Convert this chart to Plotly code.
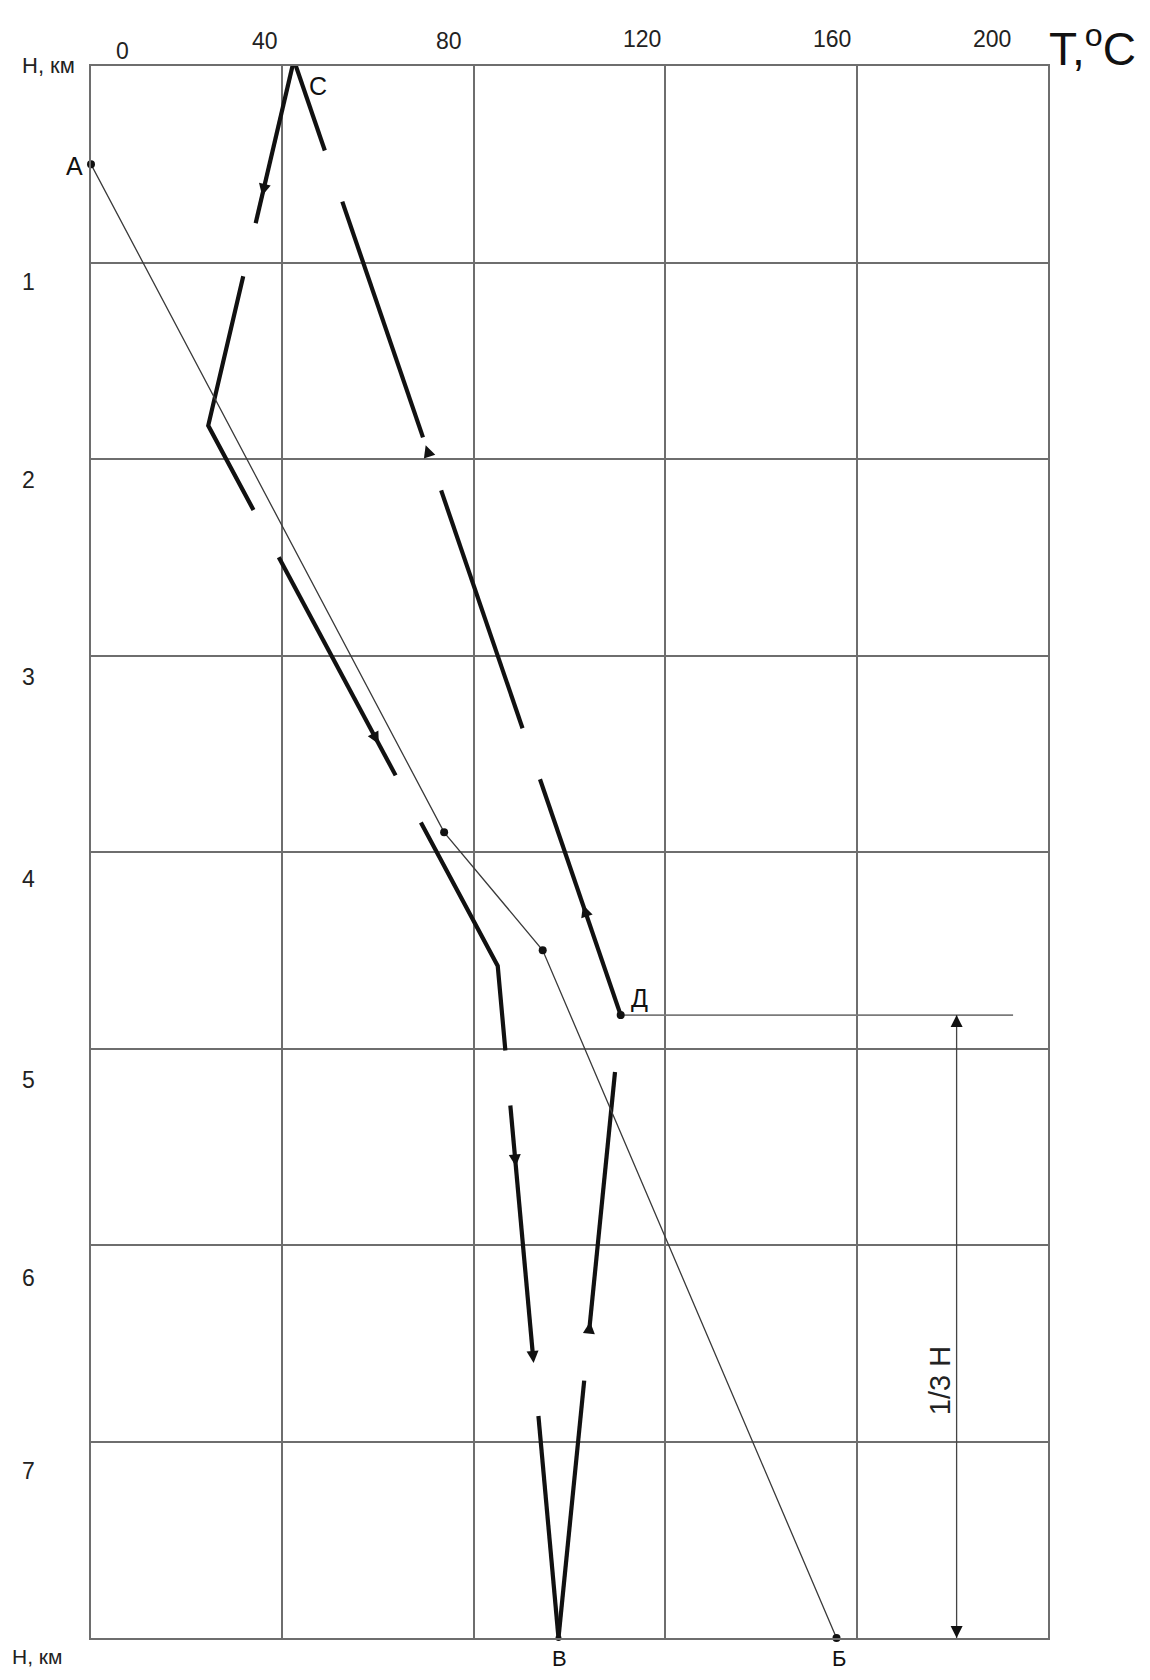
import math
import numpy as np
import plotly.graph_objects as go

# ---------------- data ----------------
# temperature axis (top), deg C
t_ticks = [0, 40, 80, 120, 160, 200]
t_tick_labels = ["0", "40", "80", "120", "160", "200"]
# depth axis (left), km
h_ticks = [1, 2, 3, 4, 5, 6, 7]
h_tick_labels = ["1", "2", "3", "4", "5", "6", "7"]

# thin geothermal line A - B (with marked points)
geo_T = [0.0, 73.8, 94.4, 155.8]
geo_H = [0.50, 3.90, 4.50, 8.00]

# thick circulation loop: descending branch C -> V
desc_T = [42.4, 24.5, 85.0, 97.7]
desc_H = [-0.03, 1.83, 4.58, 8.00]
# ascending branch V -> D -> C
asc_T = [97.7, 110.7, 42.4]
asc_H = [8.00, 4.83, -0.03]

# visible pieces of the broken thick lines (depth from, depth to)
desc_dashes = [(-0.03, 0.80), (1.07, 2.26), (2.50, 3.61), (3.85, 5.01), (5.29, 6.57), (6.87, 8.00)]
asc_dashes = [(8.00, 6.69), (6.42, 5.12), (4.83, 3.63), (3.37, 2.16), (1.89, 0.69), (0.43, -0.03)]
# arrow tips along the branches (depth, km)
desc_arrows = [0.66, 3.45, 5.60, 6.60]
asc_arrows = [6.39, 4.27, 1.93]

# point D and its horizontal line, 1/3 H dimension
D_T, D_H = 110.7, 4.83
D_line_end_T = 192.7
third_T = 180.9
V_T, V_H = 97.7, 8.0

# ---------------- layout geometry ----------------
W, Hh = 1134, 1664
ML, MR, MT, MB = 83, 94, 58, 34
plot_w = W - ML - MR
plot_h = Hh - MT - MB
T_MAX, H_MAX = 200, 8
sx = plot_w / T_MAX
sy = plot_h / H_MAX

FONT = "Liberation Sans, Arial, sans-serif"
INK = "#111111"
GRID = "#6e6e6e"

fig = go.Figure()


def branch_T(h, Ts, Hs):
    Hs = np.asarray(Hs)
    Ts = np.asarray(Ts)
    if Hs[0] > Hs[-1]:
        Hs = Hs[::-1]
        Ts = Ts[::-1]
    return float(np.interp(h, Hs, Ts))


def add_dash(h0, h1, Ts, Hs):
    lo, hi = min(h0, h1), max(h0, h1)
    hs = [lo] + [h for h in Hs if lo < h < hi] + [hi]
    ts = [branch_T(h, Ts, Hs) for h in hs]
    fig.add_trace(go.Scatter(x=ts, y=hs, mode="lines", cliponaxis=False,
                             line=dict(color=INK, width=4.2), hoverinfo="skip"))


for a, b in desc_dashes:
    add_dash(a, b, desc_T, desc_H)
for a, b in asc_dashes:
    add_dash(a, b, asc_T, asc_H)


def arrow_angle(h, Ts, Hs, downward):
    eps = 0.01
    h2 = h + eps if downward else h - eps
    dx = (branch_T(h2, Ts, Hs) - branch_T(h, Ts, Hs)) * sx
    dy = (h2 - h) * sy
    return math.degrees(math.atan2(dx, -dy))


def add_arrows(hs, Ts, Hs, downward, size=12):
    xs = [branch_T(h, Ts, Hs) for h in hs]
    angs = [arrow_angle(h, Ts, Hs, downward) for h in hs]
    fig.add_trace(go.Scatter(x=xs, y=hs, mode="markers", cliponaxis=False,
                             marker=dict(symbol="arrow-up", size=size, color=INK,
                                         angle=angs, line=dict(width=0)),
                             hoverinfo="skip"))


add_arrows(desc_arrows, desc_T, desc_H, True)
add_arrows(asc_arrows, asc_T, asc_H, False)

# geothermal thin line
fig.add_trace(go.Scatter(x=geo_T, y=geo_H, mode="lines", line=dict(color="#3a3a3a", width=1.3),
                         hoverinfo="skip"))
# D horizontal line
fig.add_trace(go.Scatter(x=[D_T, D_line_end_T], y=[D_H, D_H], mode="lines",
                         line=dict(color="#7a7a7a", width=1.6), hoverinfo="skip"))
# 1/3 H dimension line
fig.add_trace(go.Scatter(x=[third_T, third_T], y=[D_H, H_MAX], mode="lines",
                         line=dict(color="#444444", width=1.3), hoverinfo="skip"))
fig.add_trace(go.Scatter(x=[third_T, third_T], y=[D_H, H_MAX], mode="markers", cliponaxis=False,
                         marker=dict(symbol="arrow-up", size=12, color=INK, angle=[0, 180],
                                     line=dict(width=0)), hoverinfo="skip"))
# points
fig.add_trace(go.Scatter(x=geo_T + [D_T], y=geo_H + [D_H], mode="markers", cliponaxis=False,
                         marker=dict(symbol="circle", size=8, color=INK), hoverinfo="skip"))
fig.add_trace(go.Scatter(x=[V_T], y=[V_H], mode="markers", cliponaxis=False,
                         marker=dict(symbol="circle", size=6, color=INK), hoverinfo="skip"))

# ---------------- text ----------------
ann = []
top_shift_x = [31, -17, -25, -23, -25, -56]
top_shift_y = [15, 25, 25, 27, 27, 27]
for t, lab, dx, dy in zip(t_ticks, t_tick_labels, top_shift_x, top_shift_y):
    ann.append(dict(x=t, y=0, xref="x", yref="y", text=lab, showarrow=False,
                    xshift=dx, yshift=dy, font=dict(family=FONT, size=23, color="#222")))
left_shift_y = [-19, -21, -21, -27, -31, -33, -29]
for h, lab, dy in zip(h_ticks, h_tick_labels, left_shift_y):
    ann.append(dict(x=0, y=h, xref="x", yref="y", text=lab, showarrow=False,
                    xshift=-63, yshift=dy, font=dict(family=FONT, size=23, color="#222")))

ann.append(dict(x=0, y=0, xref="x", yref="y", text="Н, км", showarrow=False,
                xshift=-43, yshift=1, font=dict(family=FONT, size=22, color="#222")))
ann.append(dict(x=0, y=H_MAX, xref="x", yref="y", text="Н, км", showarrow=False,
                xshift=-54, yshift=-18, font=dict(family=FONT, size=21, color="#222")))
ann.append(dict(x=T_MAX, y=0, xref="x", yref="y", text="T,<sup>o</sup>C", showarrow=False,
                xanchor="center", xshift=44, yshift=20,
                font=dict(family="Liberation Sans Narrow, Liberation Sans, Arial, sans-serif",
                          size=46, color="#111")))

letter_font = dict(family=FONT, size=25, color="#111")
small_letter_font = dict(family=FONT, size=22, color="#111")
ann.append(dict(x=desc_T[0], y=0, xref="x", yref="y", text="С", showarrow=False,
                xshift=24, yshift=-20, font=letter_font))
ann.append(dict(x=geo_T[0], y=geo_H[0], xref="x", yref="y", text="А", showarrow=False,
                xshift=-17, yshift=-2, font=letter_font))
ann.append(dict(x=D_T, y=D_H, xref="x", yref="y", text="Д", showarrow=False,
                xshift=19, yshift=17, font=letter_font))
ann.append(dict(x=V_T, y=V_H, xref="x", yref="y", text="В", showarrow=False,
                xshift=1, yshift=-20, font=small_letter_font))
ann.append(dict(x=geo_T[-1], y=geo_H[-1], xref="x", yref="y", text="Б", showarrow=False,
                xshift=2, yshift=-20, font=small_letter_font))
ann.append(dict(x=third_T, y=6.69, xref="x", yref="y", text="1/3 Н", showarrow=False,
                textangle=-90, xshift=-17, font=dict(family=FONT, size=29, color="#222")))

fig.update_layout(
    width=W, height=Hh,
    margin=dict(l=ML, r=MR, t=MT, b=MB, pad=0),
    paper_bgcolor="white", plot_bgcolor="white",
    showlegend=False,
    annotations=ann,
    xaxis=dict(range=[0, T_MAX], tickvals=t_ticks, showticklabels=False, ticks="",
               showgrid=True, gridcolor=GRID, gridwidth=1.5, zeroline=False,
               showline=True, linecolor=GRID, linewidth=1.5, mirror=True, fixedrange=True),
    yaxis=dict(range=[H_MAX, 0], tickvals=list(range(0, 9)), showticklabels=False, ticks="",
               showgrid=True, gridcolor=GRID, gridwidth=1.5, zeroline=False,
               showline=True, linecolor=GRID, linewidth=1.5, mirror=True, fixedrange=True),
)

fig.write_html("out.html")
